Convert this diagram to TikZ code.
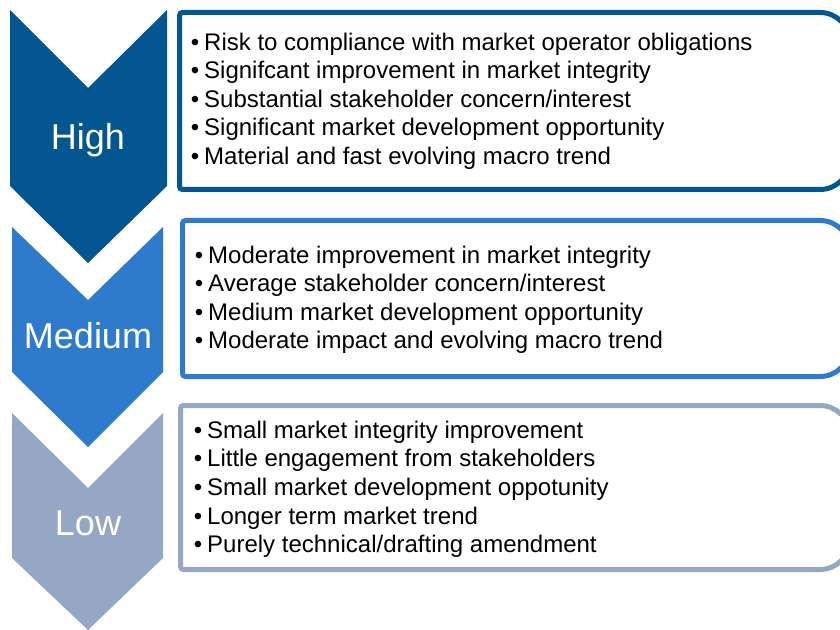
\documentclass[tikz,border=0pt]{standalone}
\usepackage{fontspec}
\setmainfont{Liberation Sans}
\definecolor{cHigh}{HTML}{03568F}
\definecolor{cMed}{HTML}{2E7BCB}
\definecolor{cLow}{HTML}{95A7C5}
\tikzset{
  lvl/.style={text=white, font=\fontsize{36bp}{40bp}\selectfont, inner sep=0, anchor=base},
  itemtext/.style={anchor=base west, inner sep=0, font=\fontsize{24bp}{28bp}\selectfont, text=black},
  levelbox/.style={line width=5bp, fill=white},
}
\newcommand{\bul}{\llap{\textbullet\hspace{5bp}}}
\begin{document}
\begin{tikzpicture}[x=1bp,y=-1bp]
\useasboundingbox (0,0) rectangle (840,630);
\clip (0,0) rectangle (840,630);
% chevrons
\fill[cHigh] (10,10) -- (88,88) -- (167,10) -- (167,186) -- (88,263) -- (10,186) -- cycle;
\fill[cMed] (12,227) -- (88,300) -- (163,227) -- (163,372) -- (88,447) -- (12,372) -- cycle;
\fill[cLow] (12,413) -- (88,488) -- (163,413) -- (163,558) -- (88,630) -- (12,558) -- cycle;
\node[lvl] (lh) at (88,150) {High};
\node[lvl] (lm) at (88,348) {Medium};
\node[lvl] (ll) at (88,535) {Low};
% boxes
\draw[levelbox, draw=cHigh] (179.5,15.5) arc[start angle=180,end angle=270,radius=3] -- (820,12.5) arc[start angle=270,end angle=360,radius=30] -- (850,159.5) arc[start angle=0,end angle=90,radius=30] -- (182.5,189.5) arc[start angle=90,end angle=180,radius=3] -- cycle;
\draw[levelbox, draw=cMed] (182.5,223.5) arc[start angle=180,end angle=270,radius=3] -- (820,220.5) arc[start angle=270,end angle=360,radius=30] -- (850,346.5) arc[start angle=0,end angle=90,radius=30] -- (185.5,376.5) arc[start angle=90,end angle=180,radius=3] -- cycle;
\draw[levelbox, draw=cLow] (180.5,408.5) arc[start angle=180,end angle=270,radius=3] -- (820,405.5) arc[start angle=270,end angle=360,radius=30] -- (850,539.5) arc[start angle=0,end angle=90,radius=30] -- (183.5,569.5) arc[start angle=90,end angle=180,radius=3] -- cycle;
% high items
\node[itemtext] (h1) at (204,50.5) {\bul Risk to compliance with market operator obligations};
\node[itemtext] (h2) at (204,79) {\bul Signifcant improvement in market integrity};
\node[itemtext] (h3) at (204,107.5) {\bul Substantial stakeholder concern/interest};
\node[itemtext] (h4) at (204,136) {\bul Significant market development opportunity};
\node[itemtext] (h5) at (204,164.5) {\bul Material and fast evolving macro trend};
% medium items
\node[itemtext] (m1) at (208,263) {\bul Moderate improvement in market integrity};
\node[itemtext] (m2) at (208,291.5) {\bul Average stakeholder concern/interest};
\node[itemtext] (m3) at (208,320) {\bul Medium market development opportunity};
\node[itemtext] (m4) at (208,348.5) {\bul Moderate impact and evolving macro trend};
% low items
\node[itemtext] (w1) at (207,438) {\bul Small market integrity improvement};
\node[itemtext] (w2) at (207,466.7) {\bul Little engagement from stakeholders};
\node[itemtext] (w3) at (207,495.4) {\bul Small market development oppotunity};
\node[itemtext] (w4) at (207,524.1) {\bul Longer term market trend};
\node[itemtext] (w5) at (207,552.8) {\bul Purely technical/drafting amendment};
\end{tikzpicture}
\end{document}
